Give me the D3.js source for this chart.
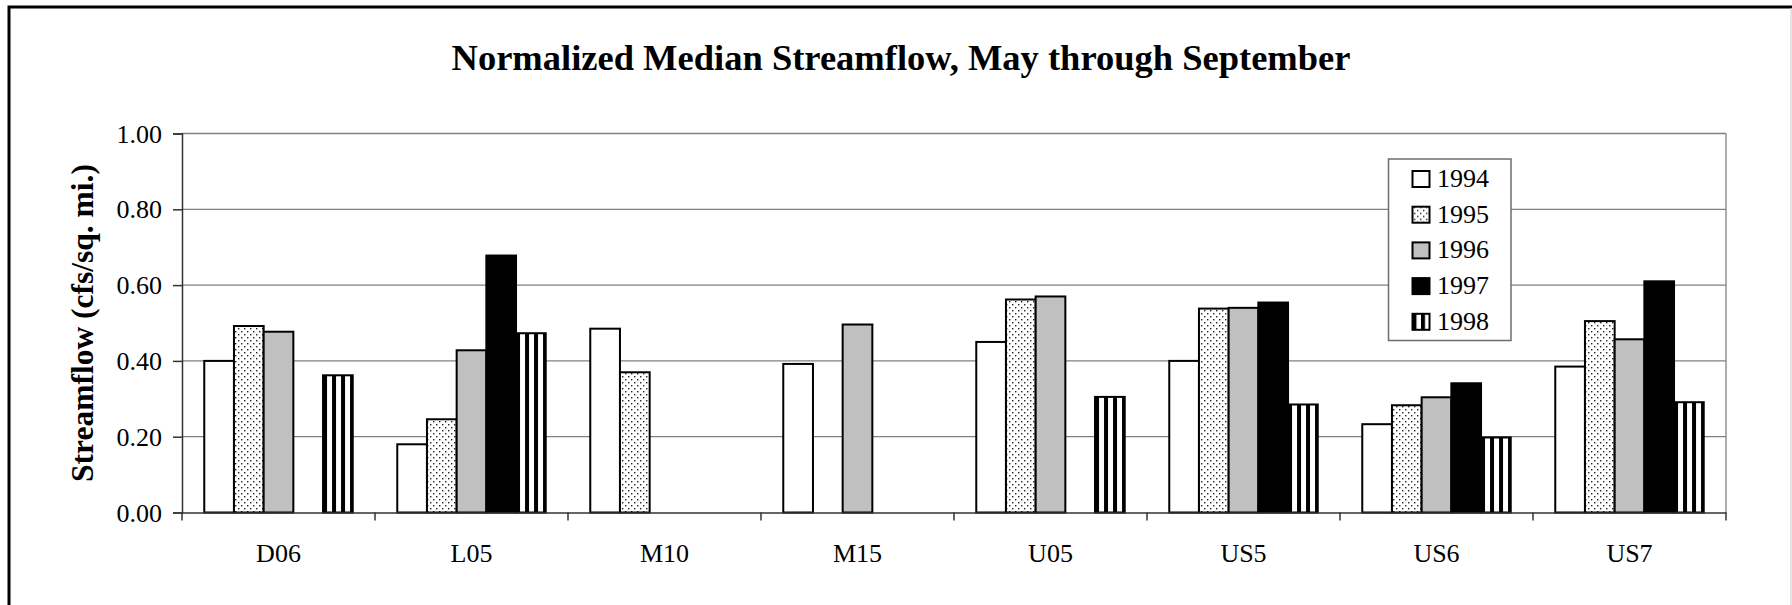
<!DOCTYPE html>
<html>
<head>
<meta charset="utf-8">
<script src="https://cdn.jsdelivr.net/npm/d3@7"></script>
<style>
  html, body { margin: 0; padding: 0; background: #fff; }
  svg { display: block; }
  text { font-family: "Liberation Serif", "Times New Roman", serif; fill: #000; }
</style>
</head>
<body>
<svg id="chart" width="1792" height="605"></svg>
<script>
// ---- data ----
const categories = ["D06", "L05", "M10", "M15", "U05", "US5", "US6", "US7"];
const years = ["1994", "1995", "1996", "1997", "1998"];
const v1994 = [0.40, 0.18, 0.485, 0.392, 0.45, 0.40, 0.233, 0.385];
const v1995 = [0.492, 0.246, 0.37, null, 0.562, 0.538, 0.283, 0.505];
const v1996 = [0.477, 0.428, null, 0.496, 0.57, 0.54, 0.304, 0.457];
const v1997 = [null, 0.678, null, null, null, 0.554, 0.341, 0.61];
const v1998 = [0.362, 0.473, null, null, 0.305, 0.285, 0.198, 0.291];
const yTicks = [0, 0.2, 0.4, 0.6, 0.8, 1.0];
const title = "Normalized Median Streamflow, May through September";
const yTitle = "Streamflow (cfs/sq. mi.)";

const seriesValues = [v1994, v1995, v1996, v1997, v1998];

// ---- layout ----
const svg = d3.select("#chart");
const plot = { left: 182, right: 1726, top: 133.5, bottom: 512.5 };

const x = d3.scaleBand().domain(categories).range([plot.left, plot.right]).paddingInner(0).paddingOuter(0);
const bw = x.bandwidth() / (years.length + 1.5);
const xInner = d3.scaleBand().domain(years).range([0.75 * bw, 0.75 * bw + years.length * bw]).padding(0);
const y = d3.scaleLinear().domain([0, 1]).range([plot.bottom, plot.top]);

// ---- patterns ----
const defs = svg.append("defs");
const dots = defs.append("pattern").attr("id", "pat1995")
  .attr("patternUnits", "userSpaceOnUse").attr("width", 6).attr("height", 6);
dots.append("rect").attr("width", 6).attr("height", 6).attr("fill", "#fff");
dots.append("rect").attr("x", 1).attr("y", 1).attr("width", 1.4).attr("height", 1.4).attr("fill", "#222");
dots.append("rect").attr("x", 4).attr("y", 4).attr("width", 1.4).attr("height", 1.4).attr("fill", "#222");

function stripePattern(id, w) {
  const p = defs.append("pattern").attr("id", id)
    .attr("patternUnits", "objectBoundingBox")
    .attr("patternContentUnits", "userSpaceOnUse")
    .attr("x", 0).attr("y", 0).attr("width", w).attr("height", 1);
  p.append("rect").attr("width", 100).attr("height", 1000).attr("fill", "#fff");
  p.append("rect").attr("x", 0).attr("width", 4).attr("height", 1000).attr("fill", "#000");
}
stripePattern("pat1998", 9 / bw);
stripePattern("pat1998leg", 0.5);

const fills = {
  "1994": "#fff",
  "1995": "url(#pat1995)",
  "1996": "#c0c0c0",
  "1997": "#000",
  "1998": "url(#pat1998)"
};

// ---- outer frame ----
svg.append("path").attr("d", "M9,605 L9,7 L1792,7").attr("fill", "none").attr("stroke", "#000").attr("stroke-width", 3);
svg.append("line").attr("x1", 1791).attr("x2", 1791).attr("y1", 8).attr("y2", 605).attr("stroke", "#c8c8c8").attr("stroke-width", 1);

// ---- title ----
svg.append("text").attr("x", 901).attr("y", 70)
  .attr("text-anchor", "middle").attr("font-size", 36.5).attr("font-weight", "bold").text(title);

// ---- gridlines ----
svg.append("g").selectAll("line").data(yTicks.filter(d => d > 0)).join("line")
  .attr("x1", plot.left).attr("x2", plot.right)
  .attr("y1", d => y(d)).attr("y2", d => y(d))
  .attr("stroke", "#808080").attr("stroke-width", 1.3);
// plot area right border
svg.append("line").attr("x1", plot.right).attr("x2", plot.right).attr("y1", plot.top).attr("y2", plot.bottom)
  .attr("stroke", "#808080").attr("stroke-width", 1.3);

// ---- bars ----
const barData = [];
categories.forEach((c, i) => {
  years.forEach((yr, j) => {
    const v = seriesValues[j][i];
    if (v != null) barData.push({ cat: c, year: yr, value: v });
  });
});
svg.append("g").selectAll("rect").data(barData).join("rect")
  .attr("x", d => x(d.cat) + xInner(d.year))
  .attr("y", d => y(d.value))
  .attr("width", bw)
  .attr("height", d => y(0) - y(d.value))
  .attr("fill", d => fills[d.year])
  .attr("stroke", "#000").attr("stroke-width", 2);

// ---- axes ----
const yAxis = d3.axisLeft(y).tickValues(yTicks).tickFormat(d3.format(".2f")).tickSize(9).tickPadding(11);
const gy = svg.append("g").attr("transform", `translate(${plot.left},0)`).call(yAxis);
gy.select(".domain").attr("stroke", "#333").attr("stroke-width", 1.5);
gy.selectAll(".tick line").attr("stroke", "#333").attr("stroke-width", 1.5);
gy.selectAll(".tick text").attr("font-size", 26).attr("font-family", "Liberation Serif").attr("fill", "#000").attr("dy", "0.33em");

const xAxis = d3.axisBottom(x).tickSize(0).tickPadding(0);
const gx = svg.append("g").attr("transform", `translate(0,${plot.bottom})`).call(xAxis);
gx.select(".domain").attr("stroke", "#333").attr("stroke-width", 1.5);
gx.selectAll(".tick text").attr("font-size", 26).attr("font-family", "Liberation Serif").attr("fill", "#000")
  .attr("y", 49).attr("dy", 0);
// category boundary ticks
const bounds = categories.map(c => x(c)).concat([plot.right]);
svg.append("g").selectAll("line").data(bounds).join("line")
  .attr("x1", d => d).attr("x2", d => d)
  .attr("y1", plot.bottom).attr("y2", plot.bottom + 8)
  .attr("stroke", "#333").attr("stroke-width", 1.5);

// ---- y title ----
svg.append("text")
  .attr("transform", `translate(93,${(plot.top + plot.bottom) / 2}) rotate(-90)`)
  .attr("text-anchor", "middle").attr("font-size", 31.5).attr("font-weight", "bold").text(yTitle);

// ---- legend ----
const leg = svg.append("g");
leg.append("rect").attr("x", 1388.5).attr("y", 159).attr("width", 122.5).attr("height", 181.5)
  .attr("fill", "#fff").attr("stroke", "#6e6e6e").attr("stroke-width", 1.5);
const legFills = Object.assign({}, fills, { "1998": "url(#pat1998leg)" });
const items = leg.selectAll("g.item").data(years).join("g").attr("class", "item")
  .attr("transform", (d, i) => `translate(0,${179 + i * 35.7})`);
items.append("rect").attr("x", 1412.5).attr("y", -8).attr("width", 17).attr("height", 16)
  .attr("fill", d => legFills[d]).attr("stroke", "#000").attr("stroke-width", 2);
items.append("text").attr("x", 1437).attr("y", 8).attr("font-size", 26).text(d => d);
</script>
</body>
</html>
